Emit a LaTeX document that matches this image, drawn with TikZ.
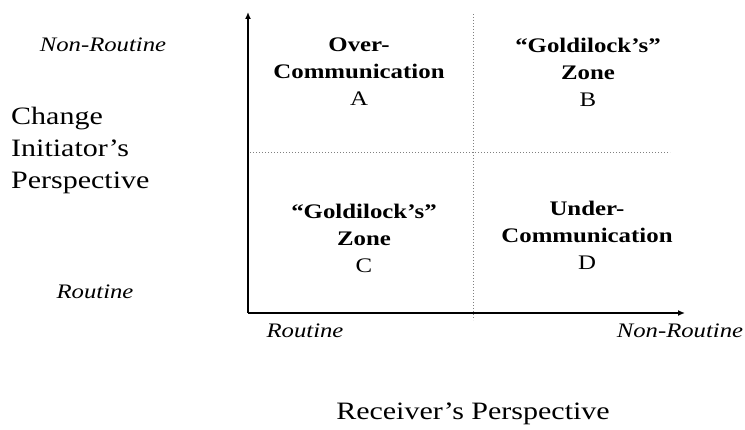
\documentclass[tikz,border=0pt]{standalone}
\usepackage{fontspec}
\setmainfont{Liberation Serif}[FakeStretch=1.2]
\usepackage{tikz}
\usetikzlibrary{arrows.meta}

\tikzset{
  axis/.style={line width=2.4pt,-{Latex[length=7pt,width=6pt]}},
  divider/.style={gray,line width=1pt,dotted},
  quad/.style={align=center,font=\fontsize{20.7}{27}\selectfont\bfseries},
  level/.style={font=\fontsize{20.6}{24}\selectfont\itshape},
  title/.style={font=\fontsize{25}{32}\selectfont}
}

\begin{document}
\begin{tikzpicture}[x=1pt,y=-1pt]
\useasboundingbox (0,0) rectangle (745,430);
%% axes
\coordinate (origin) at (248,313);
\coordinate (ytip) at (248,12);
\coordinate (xtip) at (685,313);
\draw[axis] (origin) -- (ytip);
\draw[axis] (origin) -- (xtip);
%% quadrant dividers
\coordinate (vtop) at (473,14);
\coordinate (vbot) at (473,320);
\coordinate (hleft) at (250,153);
\coordinate (hright) at (670,153);
\draw[divider] (vtop) -- (vbot);
\draw[divider] (hleft) -- (hright);
%% quadrants
\node[quad] (qa) at (359,72) {Over-\\Communication\\{\mdseries A}};
\node[quad] (qb) at (588,72) {“Goldilock’s”\\Zone\\{\mdseries B}};
\node[quad] (qc) at (364,238) {“Goldilock’s”\\Zone\\{\mdseries C}};
\node[quad] (qd) at (587,235) {Under-\\Communication\\{\mdseries D}};
%% axis levels
\node[level] (ynonroutine) at (103,45) {Non-Routine};
\node[level] (yroutine) at (95,292) {Routine};
\node[level] (xroutine) at (305,331) {Routine};
\node[level] (xnonroutine) at (680,331) {Non-Routine};
%% axis titles
\node[title,align=left,anchor=west,inner sep=0pt] (ytitle) at (11,150) {Change\\Initiator’s\\Perspective};
\node[title] (xtitle) at (473,414) {Receiver’s Perspective};
\end{tikzpicture}
\end{document}
